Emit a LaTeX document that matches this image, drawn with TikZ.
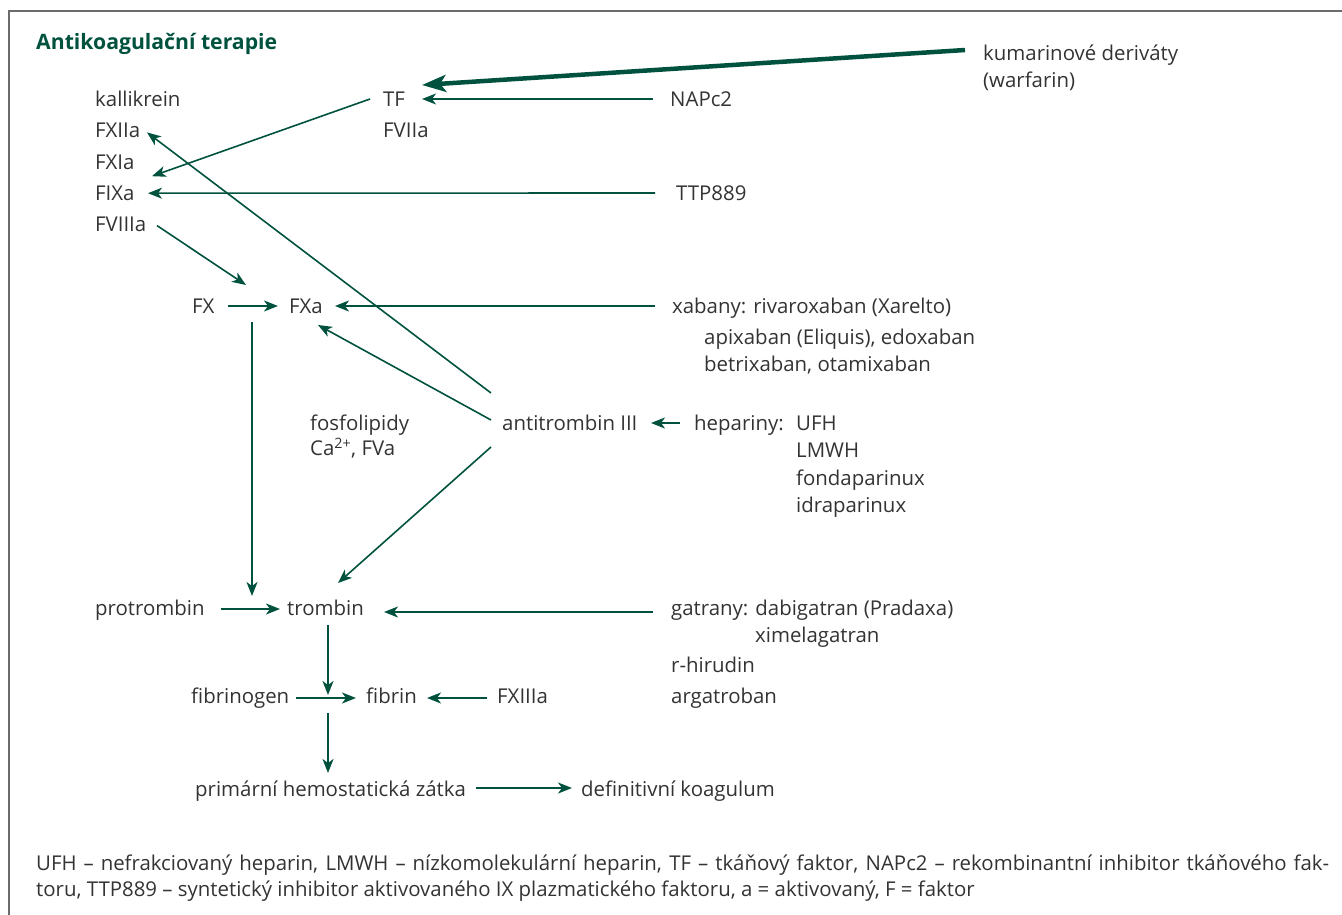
\documentclass[tikz,border=0pt]{standalone}
\usepackage{fontspec}
\setmainfont{Open Sans}
\usetikzlibrary{arrows.meta,positioning}
\definecolor{kgreen}{HTML}{00523E}
\definecolor{ktext}{HTML}{333333}
\definecolor{kframe}{HTML}{6B6B6B}

\begin{document}
\begin{tikzpicture}[x=1pt,y=-1pt,>={Stealth[length=14pt,width=11pt,inset=4pt]},
	lbl/.style={inner sep=0pt,anchor=west,text=ktext,font=\fontsize{20.4}{24}\selectfont,text height=14.5pt,text depth=0pt},
	arr/.style={->,color=kgreen,line width=1.6pt},
	thickarr/.style={line width=4.5pt,-{Stealth[length=24pt,width=17pt,inset=6pt]}}]

  \useasboundingbox (0,0) rectangle (1342,915);
  \draw[kframe,line width=2pt] (9,915) |- (1342,11);

  \node[lbl,text=kgreen,font=\fontsize{21.2}{24}\selectfont\bfseries]	(title) at (36,42) {Antikoagulační terapie};

  \node[lbl]	(kall) at (95,99) {kallikrein};
  \node[lbl]	(fxiia) [below=16.5pt of kall.south west,anchor=north west] {FXIIa};
  \node[lbl]	(fxia) [below=16.5pt of fxiia.south west,anchor=north west] {FXIa};
  \node[lbl]	(fixa) [below=16.5pt of fxia.south west,anchor=north west] {FIXa};
  \node[lbl]	(fviiia) [below=16.5pt of fixa.south west,anchor=north west] {FVIIIa};

  \node[lbl]	(tf) at (383,99) {TF};
  \node[lbl]	(fviia) [below=16.5pt of tf.south west,anchor=north west] {FVIIa};
  \node[lbl]	(napc) at (670,99) {NAPc2};
  \node[lbl]	(kum) at (983,53) {kumarinové deriváty};
  \node[lbl]	(warf) [below=12.5pt of kum.south west,anchor=north west] {(warfarin)};
  \node[lbl]	(ttp) at (676,193) {TTP889};

  \node[lbl]	(fx) at (192,306) {FX};
  \node[lbl]	(fxa) at (289,306) {FXa};
  \node[lbl]	(xab) at (672,306) {xabany: rivaroxaban (Xarelto)};
  \node[lbl]	(xab2) at (704,337) {apixaban (Eliquis), edoxaban};
  \node[lbl]	(xab3) [below=12.5pt of xab2.south west,anchor=north west] {betrixaban, otamixaban};

  \node[lbl]	(fosfo) at (310,423) {fosfolipidy};
  \node[lbl]	(ca) [below=10.5pt of fosfo.south west,anchor=north west] {Ca\textsuperscript{2+}, FVa};
  \node[lbl]	(atiii) at (502,423) {antitrombin III};
  \node[lbl]	(hep) at (694,423) {hepariny:};
  \node[lbl]	(ufh) at (796,423) {UFH};
  \node[lbl]	(lmwh) [below=12.5pt of ufh.south west,anchor=north west] {LMWH};
  \node[lbl]	(fonda) [below=12.5pt of lmwh.south west,anchor=north west] {fondaparinux};
  \node[lbl]	(idra) [below=12.5pt of fonda.south west,anchor=north west] {idraparinux};

  \node[lbl]	(protr) at (95,608) {protrombin};
  \node[lbl]	(trombin) at (287,608) {trombin};
  \node[lbl]	(gatr) at (671,608) {gatrany: dabigatran (Pradaxa)};
  \node[lbl]	(xime) at (755,635) {ximelagatran};
  \node[lbl]	(rhir) at (671,665) {r-hirudin};
  \node[lbl]	(argat) [below=16.5pt of rhir.south west,anchor=north west] {argatroban};

  \node[lbl]	(fibrinogen) at (191,696) {fibrinogen};
  \node[lbl]	(fibrin) at (366,696) {fibrin};
  \node[lbl]	(fxiiia) at (497,696) {FXIIIa};
  \node[lbl]	(prim) at (195,789) {primární hemostatická zátka};
  \node[lbl]	(defin) at (581,789) {definitivní koagulum};

  \node[inner sep=0pt,anchor=base west,text=ktext,text width=1293pt,align=justify,font=\fontsize{20.4}{26}\selectfont]	(note) at (36,870)
	{UFH – nefrakciovaný heparin, LMWH – nízkomolekulární heparin, TF – tkáňový faktor, NAPc2 – rekombinantní inhibitor tkáňového fak-\linebreak
	toru, TTP889 – syntetický inhibitor aktivovaného IX plazmatického faktoru, a = aktivovaný, F = faktor};

 \path[arr]
 ([shift={(-18,-3)}]kum.west)
	 edge [thickarr] ([shift={(39,-14)}]tf.west)
 ([shift={(-17,0)}]napc.west)
	 edge ([shift={(39,0)}]tf.west)
 ([shift={(-13,0)}]tf.west)
	 edge ([shift={(57,-17)}]fixa.west)
 ([shift={(-21,0)}]ttp.west)
	 edge ([shift={(53,0)}]fixa.west)
 ([shift={(62,1)}]fviiia.west)
	 edge ([shift={(54,-21)}]fx.west)
 ([shift={(36,0)}]fx.west)
	 edge ([shift={(-11,0)}]fxa.west)
 ([shift={(-17,0)}]xab.west)
	 edge ([shift={(46,0)}]fxa.west)
 ([shift={(60,16)}]fx.west)
	 edge ([shift={(-35,-12)}]trombin.west)

 ([shift={(-11,-30)}]atiii.west)
	 edge ([shift={(52,2)}]fxiia.west)
 ([shift={(-11,-3)}]atiii.west)
	 edge ([shift={(29,19)}]fxa.west)
 ([shift={(-11,24)}]atiii.west)
	 edge ([shift={(51,-25)}]trombin.west)
 ([shift={(-14,0)}]hep.west)
	 edge ([shift={(149,0)}]atiii.west)

 ([shift={(-66,1)}]trombin.west)
	 edge ([shift={(-7,1)}]trombin.west)
 ([shift={(-18,4)}]gatr.west)
	 edge ([shift={(97,4)}]trombin.west)
 ([shift={(41,17)}]trombin.west)
	 edge ([shift={(-38,-1)}]fibrin.west)
 ([shift={(105,2)}]fibrinogen.west)
	 edge ([shift={(-10,2)}]fibrin.west)
 ([shift={(-10,2)}]fxiiia.west)
	 edge ([shift={(61,2)}]fibrin.west)
 ([shift={(-38,17)}]fibrin.west)
	 edge ([shift={(133,-16)}]prim.west)
 ([shift={(281,-1)}]prim.west)
	 edge ([shift={(-9,-1)}]defin.west)

; % end of \path
\end{tikzpicture}
\end{document}
